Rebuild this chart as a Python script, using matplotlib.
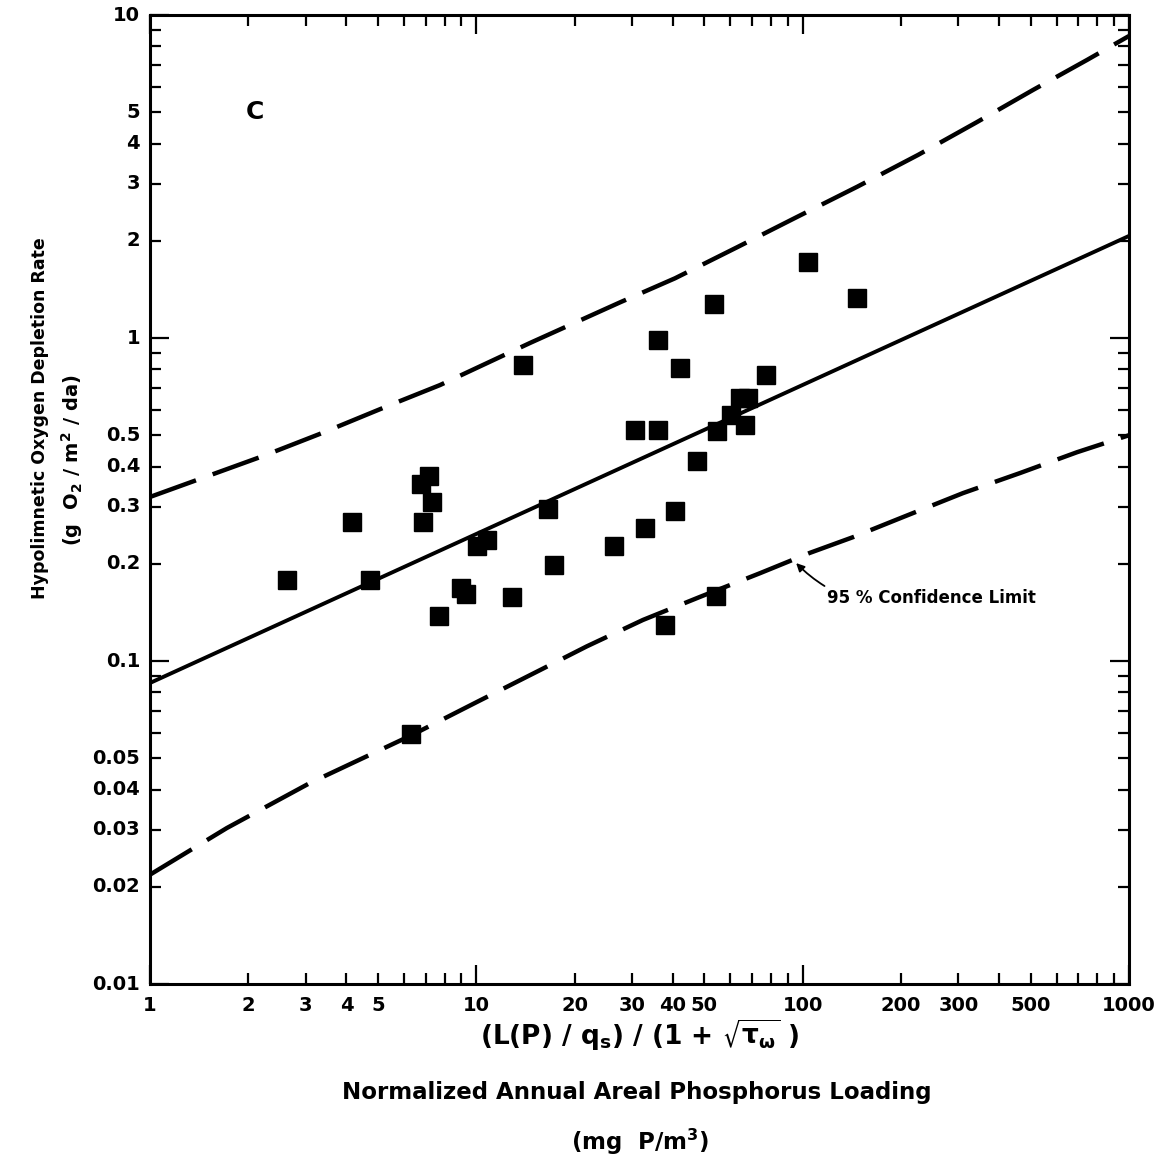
import matplotlib
matplotlib.use('Agg')
import matplotlib.pyplot as plt
from matplotlib.ticker import FixedLocator, NullFormatter

loading = [2.63, 4.16, 4.72, 6.77, 7.16, 6.87, 7.32, 7.69, 8.98, 9.30,
           10.05, 10.78, 12.9, 13.9, 16.6, 17.3, 26.4, 30.6, 32.9, 36.0,
           36.0, 37.9, 40.6, 42.1, 47.5, 53.5, 54.3, 54.7, 60.3, 64.3,
           68.0, 66.6, 77.2, 104, 147, 6.31]
depletion = [0.178, 0.269, 0.178, 0.353, 0.374, 0.269, 0.310, 0.138, 0.168, 0.161,
             0.227, 0.237, 0.158, 0.825, 0.296, 0.198, 0.227, 0.519, 0.258, 0.986,
             0.519, 0.129, 0.291, 0.807, 0.416, 1.27, 0.159, 0.515, 0.578, 0.652,
             0.652, 0.538, 0.768, 1.72, 1.33, 0.0594]

# regression line
fit_x = [1, 1000]
fit_y = [0.0855, 2.07]

# 95% confidence limits
upper_x = [1, 2.22, 3.37, 5.44, 7.74, 14.6, 27.6, 40.6, 63.0, 96.1, 147, 226, 342, 508, 744, 1000]
upper_y = [0.322, 0.431, 0.508, 0.620, 0.715, 0.965, 1.29, 1.53, 1.91, 2.37, 2.94, 3.69, 4.66, 5.86, 7.26, 8.61]
lower_x = [1, 1.72, 3.09, 6.35, 10.05, 15.7, 21.8, 32.4, 48.5, 74.0, 105, 143, 203, 310, 464, 693, 1000]
lower_y = [0.0218, 0.0304, 0.0419, 0.059, 0.0747, 0.0938, 0.111, 0.134, 0.158, 0.187, 0.216, 0.242, 0.279, 0.331, 0.382, 0.443, 0.50]

x_ticks = [1, 2, 3, 4, 5, 10, 20, 30, 40, 50, 100, 200, 300, 500, 1000]
y_ticks = [0.01, 0.02, 0.03, 0.04, 0.05, 0.1, 0.2, 0.3, 0.4, 0.5, 1, 2, 3, 4, 5, 10]

plt.rcParams['font.family'] = 'DejaVu Sans'
plt.rcParams['font.weight'] = 'bold'
plt.rcParams['mathtext.fontset'] = 'dejavusans'
plt.rcParams['mathtext.default'] = 'bf'

fig = plt.figure(figsize=(11.68, 11.63), dpi=100)
ax = fig.add_axes([0.1284, 0.1539, 0.8382, 0.8332])

ax.plot(upper_x, upper_y, color='black', lw=3.2, dashes=(11, 4))
ax.plot(lower_x, lower_y, color='black', lw=3.2, dashes=(11, 4))
ax.plot(fit_x, fit_y, color='black', lw=2.8)
ax.plot(loading, depletion, 's', color='black', markersize=13)

ax.set_xscale('log')
ax.set_yscale('log')
ax.set_xlim(1, 1000)
ax.set_ylim(0.01, 10)

minor = [m * 10 ** e for e in range(-3, 4) for m in range(2, 10)]
ax.xaxis.set_major_locator(FixedLocator([1, 10, 100, 1000]))
ax.yaxis.set_major_locator(FixedLocator([0.01, 0.1, 1, 10]))
ax.xaxis.set_minor_locator(FixedLocator(minor))
ax.yaxis.set_minor_locator(FixedLocator(minor))
ax.xaxis.set_major_formatter(NullFormatter())
ax.yaxis.set_major_formatter(NullFormatter())
ax.xaxis.set_minor_formatter(NullFormatter())
ax.yaxis.set_minor_formatter(NullFormatter())

for s in ax.spines.values():
    s.set_linewidth(2.2)
ax.tick_params(which='both', direction='in', top=True, right=True, width=1.6)
ax.tick_params(which='major', length=14)
ax.tick_params(which='minor', length=8)

# tick labels written as text so every labelled value shows
for v in x_ticks:
    ax.text(v, -0.012, '%g' % v, transform=ax.get_xaxis_transform(),
            ha='center', va='top', fontsize=14, fontweight='bold')
for v in y_ticks:
    ax.text(-0.01, v, '%g' % v, transform=ax.get_yaxis_transform(),
            ha='right', va='center', fontsize=14, fontweight='bold')

ax.text(2.1, 5.0, 'C', fontsize=18, fontweight='bold', ha='center', va='center')

ax.annotate('95 % Confidence Limit', xy=(95.5, 0.201), xytext=(119, 0.157),
            fontsize=12, fontweight='bold', ha='left', va='center',
            arrowprops=dict(arrowstyle='-|>', color='black', lw=1.3,
                            connectionstyle='arc3,rad=-0.3', shrinkA=0, shrinkB=0))

fig.text(0.034, 0.6406, 'Hypolimnetic Oxygen Depletion Rate', rotation=90,
         ha='center', va='center', fontsize=12.5, fontweight='bold')
fig.text(0.0616, 0.604, r'(g  O$_2$ / m$^2$ / da)', rotation=90,
         ha='center', va='center', fontsize=14, fontweight='bold')

fig.text(0.548, 0.110, r'(L(P) / q$_s$) / (1 + $\sqrt{\tau_\omega}$ )',
         ha='center', va='center', fontsize=19, fontweight='bold')
fig.text(0.545, 0.061, 'Normalized Annual Areal Phosphorus Loading',
         ha='center', va='center', fontsize=16.5, fontweight='bold')
fig.text(0.548, 0.0185, r'(mg  P/m$^3$)',
         ha='center', va='center', fontsize=16.5, fontweight='bold')

fig.savefig('out.png', dpi=100)
